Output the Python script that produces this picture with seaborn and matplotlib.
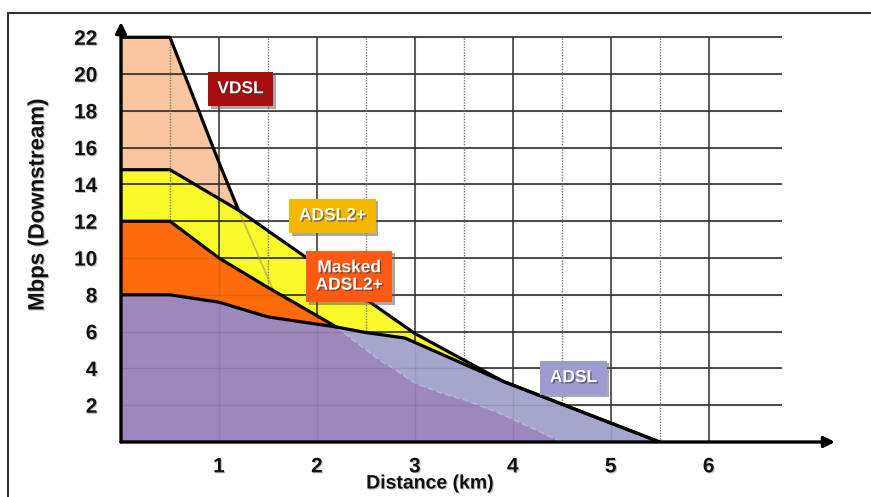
import numpy as np
import pandas as pd
import matplotlib
matplotlib.use("Agg")
import matplotlib.pyplot as plt
import matplotlib.patheffects as pe
from matplotlib.lines import Line2D
import seaborn as sns

# ---------------- data ----------------
vdsl_km = [0.0, 0.5, 1.0, 1.2, 1.55]
vdsl_mbps = [22.0, 22.0, 15.2, 12.6, 8.3]

adsl2p_km = [0.0, 0.5, 1.2, 3.0, 3.9, 5.5]
adsl2p_mbps = [14.8, 14.8, 12.6, 5.9, 3.3, 0.0]

masked_km = [0.0, 0.5, 1.0, 1.5, 2.2, 2.6, 2.85, 3.0, 3.25, 3.5, 3.85, 4.2, 4.5]
masked_mbps = [12.0, 12.0, 10.0, 8.4, 6.25, 4.6, 3.75, 3.2, 2.7, 2.3, 1.6, 0.75, 0.0]

adsl_km = [0.0, 0.5, 1.0, 1.5, 2.2, 2.5, 2.9, 3.9, 5.5]
adsl_mbps = [8.0, 8.0, 7.6, 6.8, 6.25, 5.95, 5.65, 3.3, 0.0]

x_ticks = [1, 2, 3, 4, 5, 6]
x_minor = [0.5, 1.5, 2.5, 3.5, 4.5, 5.5]
y_ticks = [2, 4, 6, 8, 10, 12, 14, 16, 18, 20, 22]

labels = ["VDSL", "ADSL2+", "Masked\nADSL2+", "ADSL"]
label_x = [1.22, 2.16, 2.33, 4.62]
label_y = [19.2, 12.3, 9.0, 3.5]
label_colors = ["#A80D0D", "#F5B800", "#FF5A14", "#9D9BD0"]

x_label = "Distance (km)"
y_label = "Mbps (Downstream)"

# ---------------- style ----------------
sns.set_style("white")
plt.rcParams["font.family"] = ["Liberation Sans", "DejaVu Sans"]

W, H = 871, 497
fig = plt.figure(figsize=(W / 100, H / 100), dpi=100)
ax = fig.add_axes([121 / W, 55 / H, 714 / W, 420 / H])
ax.set_xlim(0, 7.29)
ax.set_ylim(0, 22.83)
for s in ax.spines.values():
    s.set_visible(False)

# ---------------- fills ----------------
ax.fill_between(vdsl_km, vdsl_mbps, 0, color="#F9C6A0", lw=0, zorder=1)
ax.fill_between(adsl2p_km, adsl2p_mbps, 0, color="#FAFA2A", lw=0, zorder=2)

# grid (strong, visible on the VDSL / ADSL2+ layers)
ax.hlines(y_ticks, 0, 6.75, color="#1e1e1e", lw=1.1, zorder=2.5)
ax.vlines(x_ticks, 0, 22, color="#333333", lw=1.1, zorder=2.5)
ax.vlines(x_minor, 0, 22, color="#777777", lw=1.0, ls=(0, (1, 1)), zorder=2.5)

ax.fill_between(masked_km, masked_mbps, 0, color="#FF6A0A", lw=0, zorder=3)
adsl_fill = ax.fill_between(adsl_km, adsl_mbps, 0, color="#A6A5CC", lw=0, zorder=4)

mauve = ax.fill_between(masked_km, masked_mbps, 0, facecolor="#9C88BA",
                        edgecolor="#B4B8E8", linestyle=(0, (4, 2)), lw=1.1, zorder=5)
mauve.set_clip_path(adsl_fill.get_paths()[0], ax.transData)

# faint grid over the lower layers
ax.hlines(y_ticks, 0, 6.75, color="#1e1e1e", lw=1.0, alpha=0.12, zorder=6)
ax.vlines(x_ticks, 0, 22, color="#333333", lw=1.0, alpha=0.12, zorder=6)

# faint continuation of the VDSL edge behind ADSL2+
sns.lineplot(x=vdsl_km[3:], y=vdsl_mbps[3:], color="#9a9a50", lw=1.2, alpha=0.6,
             sort=False, estimator=None, ax=ax, zorder=6)

# ---------------- boundary lines ----------------
lw = 2.3
sns.lineplot(x=vdsl_km[:4], y=vdsl_mbps[:4], color="black", lw=lw,
             sort=False, estimator=None, ax=ax, zorder=7)
sns.lineplot(x=adsl2p_km, y=adsl2p_mbps, color="black", lw=lw,
             sort=False, estimator=None, ax=ax, zorder=7)
sns.lineplot(x=masked_km[:5], y=masked_mbps[:5], color="black", lw=lw,
             sort=False, estimator=None, ax=ax, zorder=7)
sns.lineplot(x=adsl_km, y=adsl_mbps, color="black", lw=lw,
             sort=False, estimator=None, ax=ax, zorder=7)

# ---------------- axes with arrows ----------------
ax.annotate("", xy=(7.29, 0), xytext=(0, 0), annotation_clip=False, zorder=9,
            arrowprops=dict(arrowstyle="-|>", color="black", lw=2.4,
                            mutation_scale=16, shrinkA=0, shrinkB=0))
ax.annotate("", xy=(0, 22.83), xytext=(0, 0), annotation_clip=False, zorder=9,
            arrowprops=dict(arrowstyle="-|>", color="black", lw=2.4,
                            mutation_scale=16, shrinkA=0, shrinkB=0))

# ---------------- ticks ----------------
ax.set_xticks(x_ticks)
ax.set_xticklabels([str(v) for v in x_ticks])
ax.set_yticks(y_ticks)
ax.set_yticklabels([str(v) for v in y_ticks])
ax.tick_params(axis="both", length=0, labelsize=15)
ax.tick_params(axis="x", pad=11)
ax.tick_params(axis="y", pad=17)
shadow_txt = [pe.withSimplePatchShadow(offset=(0.8, -0.8), shadow_rgbFace="#888888", alpha=0.5)]
for t in ax.get_xticklabels() + ax.get_yticklabels():
    t.set_fontweight("bold")
    t.set_color("#111111")
    t.set_path_effects(shadow_txt)

fig.text(430 / W, 1 - 484 / H, x_label, ha="center", va="center",
         fontsize=14, fontweight="bold", color="#111111", path_effects=shadow_txt)
fig.text(38 / W, 1 - 205 / H, y_label, ha="center", va="center", rotation=90,
         fontsize=16, fontweight="bold", color="#111111", path_effects=shadow_txt)

# ---------------- label boxes ----------------
box_shadow = [pe.withSimplePatchShadow(offset=(2, -2), shadow_rgbFace="#555555", alpha=0.5)]
text_shadow = [pe.withSimplePatchShadow(offset=(1, -1), shadow_rgbFace="#333333", alpha=0.6)]
for txt, x, y, c in zip(labels, label_x, label_y, label_colors):
    t = ax.text(x, y, txt, ha="center", va="center", color="white",
                fontsize=12.5, fontweight="bold", linespacing=1.2, zorder=10,
                path_effects=text_shadow,
                bbox=dict(boxstyle="square,pad=0.55", fc=c, ec="none"))
    t.get_bbox_patch().set_path_effects(box_shadow)

# ---------------- outer frame ----------------
fig.add_artist(Line2D([8 / W, 1.0], [1 - 13 / H, 1 - 13 / H], transform=fig.transFigure,
                      color="#333333", lw=1.5))
fig.add_artist(Line2D([8 / W, 8 / W], [0.0, 1 - 13 / H], transform=fig.transFigure,
                      color="#333333", lw=1.5))

fig.savefig("out.png", dpi=100)
